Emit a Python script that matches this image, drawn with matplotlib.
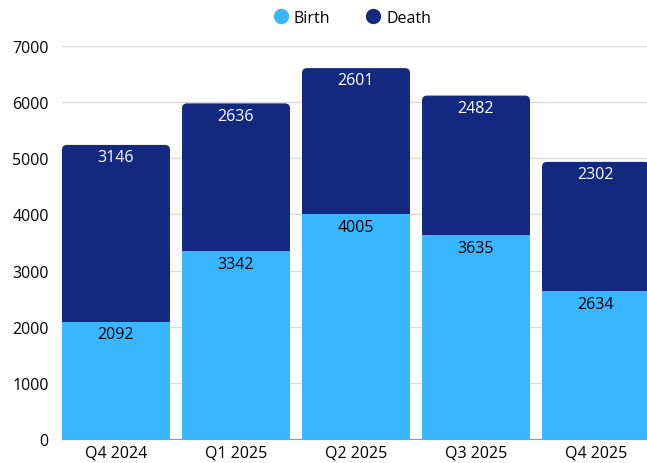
import matplotlib.pyplot as plt
from matplotlib.patches import FancyBboxPatch
from matplotlib.lines import Line2D

quarters = ["Q4 2024", "Q1 2025", "Q2 2025", "Q3 2025", "Q4 2025"]
birth = [2092, 3342, 4005, 3635, 2634]
death = [3146, 2636, 2601, 2482, 2302]

birth_color = "#38b6ff"
death_color = "#13287f"

plt.rcParams['font.family'] = ['Open Sans', 'DejaVu Sans']

fig = plt.figure(figsize=(6.47, 4.64), dpi=100)
ax = fig.add_axes([62 / 647, 24 / 464, 588 / 647, 393 / 464])

x = range(len(quarters))
width = 0.9

# death bars with rounded tops; they start a little below the birth top so the
# lower corners are hidden behind the birth bars
px_x = 1 / (588 / 5.0)          # data units per pixel, x
px_y = 7000 / 393.0             # data units per pixel, y
r = 5 * px_x
for i, (b, d) in enumerate(zip(birth, death)):
    patch = FancyBboxPatch((i - width / 2, b - 10 * px_y), width, d + 10 * px_y,
                           boxstyle=f"round,pad=0,rounding_size={r}",
                           mutation_aspect=px_y / px_x,
                           facecolor=death_color, edgecolor="none", zorder=2)
    ax.add_patch(patch)

bars_birth = ax.bar(x, birth, width, color=birth_color, zorder=3)

for i, (b, d) in enumerate(zip(birth, death)):
    ax.annotate(str(d), (i, b + d), xytext=(0, -3), textcoords="offset points",
                ha="center", va="top", color="white", fontsize=11.5, zorder=4)
    ax.annotate(str(b), (i, b), xytext=(0, -3.5), textcoords="offset points",
                ha="center", va="top", color="black", fontsize=11.5, zorder=4)

ax.set_xlim(-0.45, 4.45)
ax.set_ylim(0, 7000)
ax.set_yticks(range(0, 7001, 1000))
ax.set_xticks(list(x))
ax.set_xticklabels(quarters)
ax.tick_params(axis="both", length=0, labelsize=11.5, colors="black")
ax.tick_params(axis="y", pad=9.5)
ax.tick_params(axis="x", pad=4)
ax.grid(axis="y", color="#d9d9d9", linewidth=1, zorder=0)
ax.set_axisbelow(True)
for side in ["top", "right", "left"]:
    ax.spines[side].set_visible(False)
ax.spines["bottom"].set_color("#999999")

handles = [Line2D([], [], marker="o", linestyle="none", markersize=11,
                  markerfacecolor=c, markeredgecolor="none")
           for c in (birth_color, death_color)]
fig.legend(handles, ["Birth", "Death"], loc="center", bbox_to_anchor=(352 / 647, 1 - 19 / 464),
           ncol=2, frameon=False, fontsize=11.5, handletextpad=0.3, columnspacing=2.2,
           handlelength=1.0)

fig.savefig("out.png", dpi=100)
